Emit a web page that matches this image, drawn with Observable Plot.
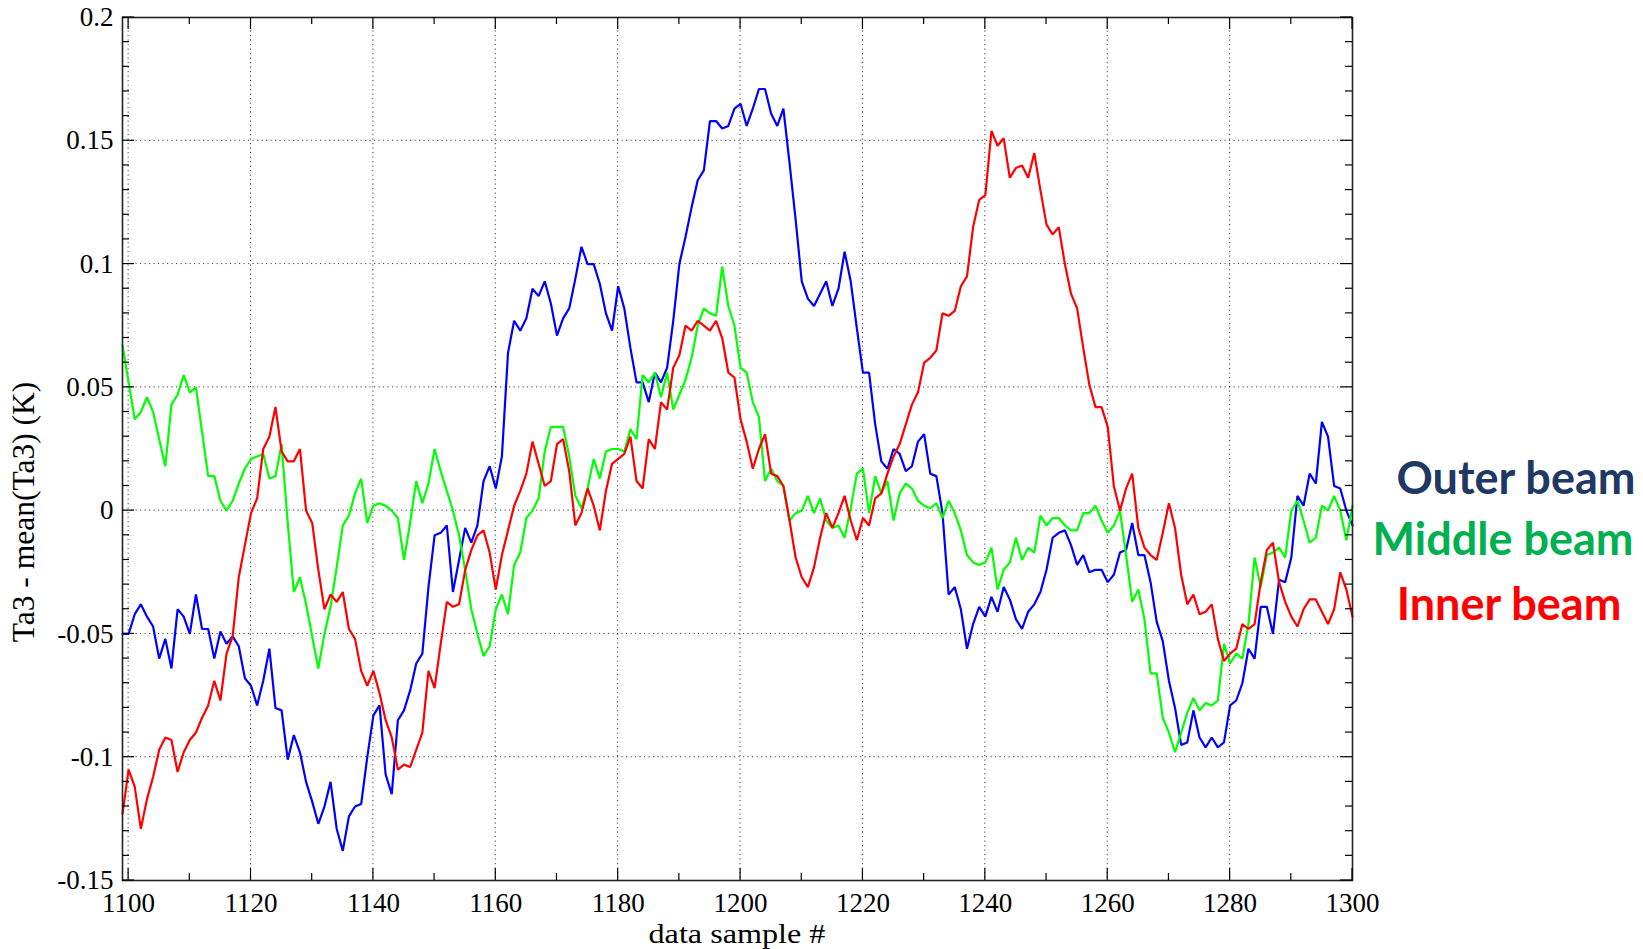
<!DOCTYPE html>
<html>
<head>
<meta charset="utf-8">
<script src="https://cdn.jsdelivr.net/npm/d3@7"></script>
<script src="https://cdn.jsdelivr.net/npm/@observablehq/plot@0.6"></script>
<style>
  html, body { margin: 0; padding: 0; background: #fff; overflow: hidden; }
</style>
</head>
<body>
<div id="chart"></div>
<script>
// ---- data (one value per data sample, starting at sample 1099) ----
const firstSample = 1099;

const outerBeam = [
  -0.050,-0.050,-0.042,-0.038,-0.043,-0.047,-0.060,-0.052,-0.064,-0.040,
  -0.043,-0.050,-0.034,-0.048,-0.048,-0.060,-0.049,-0.054,-0.051,-0.055,
  -0.068,-0.071,-0.079,-0.069,-0.056,-0.080,-0.081,-0.101,-0.091,-0.098,
  -0.110,-0.118,-0.127,-0.120,-0.110,-0.129,-0.138,-0.124,-0.120,-0.119,
  -0.100,-0.083,-0.079,-0.107,-0.115,-0.085,-0.081,-0.073,-0.062,-0.058,
  -0.031,-0.010,-0.009,-0.006,-0.033,-0.020,-0.007,-0.013,-0.006,0.012,
  0.018,0.009,0.022,0.064,0.077,0.073,0.078,0.090,0.087,0.093,
  0.084,0.071,0.078,0.082,0.094,0.107,0.100,0.100,0.092,0.080,
  0.073,0.091,0.082,0.066,0.052,0.052,0.044,0.056,0.052,0.058,
  0.077,0.100,0.111,0.123,0.134,0.138,0.158,0.158,0.155,0.156,
  0.163,0.165,0.156,0.163,0.171,0.171,0.161,0.156,0.163,0.141,
  0.118,0.093,0.086,0.083,0.088,0.093,0.083,0.090,0.105,0.093,
  0.074,0.056,0.056,0.035,0.020,0.017,0.025,0.023,0.016,0.018,
  0.028,0.031,0.015,0.014,-0.001,-0.034,-0.031,-0.040,-0.056,-0.046,
  -0.039,-0.043,-0.035,-0.041,-0.031,-0.036,-0.044,-0.048,-0.041,-0.038,
  -0.033,-0.024,-0.011,-0.009,-0.008,-0.014,-0.022,-0.018,-0.025,-0.024,
  -0.024,-0.029,-0.026,-0.017,-0.016,-0.005,-0.018,-0.018,-0.029,-0.045,
  -0.053,-0.069,-0.080,-0.095,-0.094,-0.081,-0.092,-0.096,-0.092,-0.096,
  -0.094,-0.079,-0.077,-0.070,-0.056,-0.060,-0.039,-0.039,-0.050,-0.028,
  -0.029,-0.019,0.006,0.002,0.015,0.011,0.036,0.030,0.010,0.009,
  0.000,-0.006
];

const middleBeam = [
  0.067,0.052,0.037,0.040,0.046,0.040,0.029,0.018,0.043,0.047,
  0.055,0.048,0.050,0.032,0.014,0.014,0.004,0.000,0.004,0.011,
  0.017,0.021,0.022,0.023,0.013,0.014,0.027,-0.005,-0.033,-0.027,
  -0.038,-0.051,-0.064,-0.050,-0.039,-0.023,-0.006,-0.002,0.007,0.013,
  -0.005,0.002,0.003,0.002,0.000,-0.003,-0.020,-0.005,0.012,0.003,
  0.011,0.025,0.016,0.008,0.000,-0.010,-0.024,-0.040,-0.050,-0.059,
  -0.055,-0.040,-0.034,-0.042,-0.022,-0.017,-0.003,0.000,0.005,0.024,
  0.034,0.034,0.034,0.022,0.006,0.001,0.009,0.021,0.013,0.024,
  0.025,0.025,0.024,0.033,0.029,0.055,0.052,0.056,0.046,0.056,
  0.041,0.047,0.053,0.062,0.075,0.082,0.080,0.079,0.099,0.083,
  0.075,0.058,0.056,0.044,0.038,0.012,0.017,0.012,0.010,-0.004,
  -0.001,0.000,0.006,-0.001,0.005,-0.004,-0.007,-0.006,-0.011,0.001,
  0.015,0.017,-0.001,0.014,0.007,0.012,-0.004,0.007,0.011,0.009,
  0.004,0.002,0.001,0.003,-0.003,0.004,-0.001,-0.008,-0.018,-0.021,
  -0.022,-0.021,-0.015,-0.032,-0.024,-0.021,-0.011,-0.020,-0.015,-0.017,
  -0.002,-0.006,-0.003,-0.003,-0.006,-0.008,-0.008,-0.001,-0.001,0.002,
  -0.004,-0.009,-0.006,0.000,-0.018,-0.037,-0.032,-0.044,-0.066,-0.066,
  -0.084,-0.090,-0.098,-0.090,-0.082,-0.076,-0.081,-0.078,-0.079,-0.077,
  -0.054,-0.062,-0.058,-0.060,-0.046,-0.019,-0.031,-0.018,-0.017,-0.015,
  -0.019,0.000,0.004,-0.004,-0.013,-0.011,0.002,0.000,0.006,0.000,
  -0.012,0.002
];

const innerBeam = [
  -0.123,-0.105,-0.112,-0.129,-0.117,-0.108,-0.097,-0.092,-0.093,-0.106,
  -0.098,-0.093,-0.090,-0.084,-0.079,-0.069,-0.077,-0.058,-0.051,-0.027,
  -0.014,-0.001,0.005,0.025,0.030,0.042,0.024,0.020,0.020,0.025,
  0.000,-0.005,-0.024,-0.040,-0.034,-0.037,-0.033,-0.048,-0.052,-0.065,
  -0.071,-0.065,-0.074,-0.085,-0.092,-0.105,-0.103,-0.104,-0.097,-0.090,
  -0.065,-0.072,-0.054,-0.037,-0.039,-0.038,-0.024,-0.016,-0.010,-0.008,
  -0.017,-0.032,-0.018,-0.008,0.002,0.008,0.015,0.028,0.019,0.010,
  0.012,0.027,0.029,0.016,-0.006,-0.001,0.009,0.002,-0.008,0.008,
  0.019,0.021,0.023,0.030,0.012,0.009,0.029,0.025,0.044,0.041,
  0.058,0.063,0.075,0.073,0.077,0.075,0.073,0.077,0.070,0.056,
  0.054,0.037,0.028,0.017,0.025,0.031,0.015,0.014,0.010,-0.004,
  -0.019,-0.027,-0.031,-0.023,-0.011,-0.001,-0.007,-0.001,0.006,-0.004,
  -0.012,-0.003,-0.006,0.005,0.007,0.015,0.022,0.027,0.035,0.043,
  0.048,0.060,0.062,0.065,0.080,0.079,0.081,0.091,0.095,0.115,
  0.126,0.128,0.154,0.148,0.151,0.135,0.139,0.140,0.135,0.145,
  0.130,0.116,0.112,0.115,0.100,0.088,0.082,0.066,0.051,0.042,
  0.042,0.034,0.010,0.000,0.009,0.015,-0.007,-0.015,-0.018,-0.020,
  -0.009,0.003,-0.007,-0.026,-0.038,-0.034,-0.042,-0.041,-0.038,-0.052,
  -0.061,-0.058,-0.056,-0.046,-0.048,-0.046,-0.029,-0.016,-0.013,-0.029,
  -0.037,-0.043,-0.047,-0.040,-0.036,-0.036,-0.041,-0.046,-0.040,-0.025,
  -0.032,-0.043
];

const seriesNames = ["Outer beam", "Middle beam", "Inner beam"];
const seriesValues = [outerBeam, middleBeam, innerBeam];
const lineColors = ["#0000ff", "#00ff00", "#ff0000"];
const legendColors = ["#1f3864", "#00b050", "#ff0000"];

const xTicks = [1100, 1120, 1140, 1160, 1180, 1200, 1220, 1240, 1260, 1280, 1300];
const yTicks = [-0.15, -0.1, -0.05, 0, 0.05, 0.1, 0.15, 0.2];
const xTitle = "data sample #";
const yTitle = "Ta3 - mean(Ta3) (K)";

// ---- build table ----
const rows = [];
seriesValues.forEach((vals, s) => {
  vals.forEach((v, i) => rows.push({series: seriesNames[s], sample: firstSample + i, value: v}));
});

const xDomain = [firstSample, 1300];
const yDomain = [-0.15, 0.2];
const xMinor = d3.range(1110, 1300, 20);
const yMinor = d3.range(-14, 20).map(d => d / 100).filter(v => Math.round(v * 100) % 5 !== 0);

const W = 1643, H = 949;
const mL = 122, mR = 291, mT = 17, mB = 69;

const plot = Plot.plot({
  width: W,
  height: H,
  marginLeft: mL,
  marginRight: mR,
  marginTop: mT,
  marginBottom: mB,
  style: {fontFamily: "'Liberation Serif', 'Times New Roman', serif", fontSize: "27px", color: "#000", background: "#fff"},
  x: {domain: xDomain, ticks: xTicks, tickSize: 0, tickPadding: 12, tickFormat: d => String(d), label: null},
  y: {domain: yDomain, ticks: yTicks, tickSize: 0, tickPadding: 9, tickFormat: d => String(d), label: null},
  color: {domain: seriesNames, range: lineColors},
  marks: [
    Plot.line(rows, {x: "sample", y: "value", z: "series", stroke: "series", strokeWidth: 2.2, strokeLinejoin: "miter"}),
    Plot.frame({stroke: "#222", strokeWidth: 1.6})
  ]
});

const svg = d3.select(plot);
const sx = plot.scale("x"), sy = plot.scale("y");
const fx = d3.scaleLinear(sx.domain, sx.range);
const fy = d3.scaleLinear(sy.domain, sy.range);
const [x0, x1] = sx.range, [y0, y1] = sy.range; // y0 = bottom, y1 = top

// dotted grid at the major ticks, inserted beneath the data lines
const gg = svg.insert("g", ":first-child")
  .attr("stroke", "#000").attr("stroke-opacity", 0.75)
  .attr("stroke-width", 1).attr("stroke-dasharray", "1.2,3.3");
xTicks.filter(t => t < 1300).forEach(v => {
  gg.append("line").attr("x1", fx(v)).attr("x2", fx(v)).attr("y1", y1).attr("y2", y0);
});
yTicks.filter(t => t > -0.15 && t < 0.2).forEach(v => {
  gg.append("line").attr("y1", fy(v)).attr("y2", fy(v)).attr("x1", x0).attr("x2", x1);
});

// inward ticks on all four sides
const tg = svg.append("g").attr("stroke", "#000").attr("stroke-width", 1.2);
function xt(values, len) {
  values.forEach(v => {
    const px = fx(v);
    tg.append("line").attr("x1", px).attr("x2", px).attr("y1", y0).attr("y2", y0 - len);
    tg.append("line").attr("x1", px).attr("x2", px).attr("y1", y1).attr("y2", y1 + len);
  });
}
function yt(values, len) {
  values.forEach(v => {
    const py = fy(v);
    tg.append("line").attr("y1", py).attr("y2", py).attr("x1", x0).attr("x2", x0 + len);
    tg.append("line").attr("y1", py).attr("y2", py).attr("x1", x1).attr("x2", x1 - len);
  });
}
xt(xTicks, 12); xt(xMinor, 7);
yt(yTicks, 12); yt(yMinor, 7);

svg.append("text")
  .attr("transform", `translate(${(x0 + x1) / 2},942.8) scale(1.15,1)`)
  .attr("text-anchor", "middle")
  .attr("font-family", "'Liberation Serif', serif")
  .attr("font-size", 28)
  .attr("fill", "#000")
  .text(xTitle);
svg.append("text")
  .attr("transform", "translate(34,512) rotate(-90)")
  .attr("text-anchor", "middle")
  .attr("font-family", "'Liberation Serif', serif")
  .attr("font-size", 31.5)
  .attr("fill", "#000")
  .text(yTitle);

const legendX = [1516, 1503, 1509];
const legendBaselines = [494, 555, 620];
seriesNames.forEach((name, i) => {
  svg.append("text")
    .attr("x", legendX[i]).attr("y", legendBaselines[i])
    .attr("text-anchor", "middle")
    .attr("font-family", "Lato, 'Open Sans', sans-serif")
    .attr("font-weight", 700)
    .attr("font-size", 45)
    .attr("fill", legendColors[i])
    .text(name);
});

document.getElementById("chart").appendChild(plot);
</script>
</body>
</html>
